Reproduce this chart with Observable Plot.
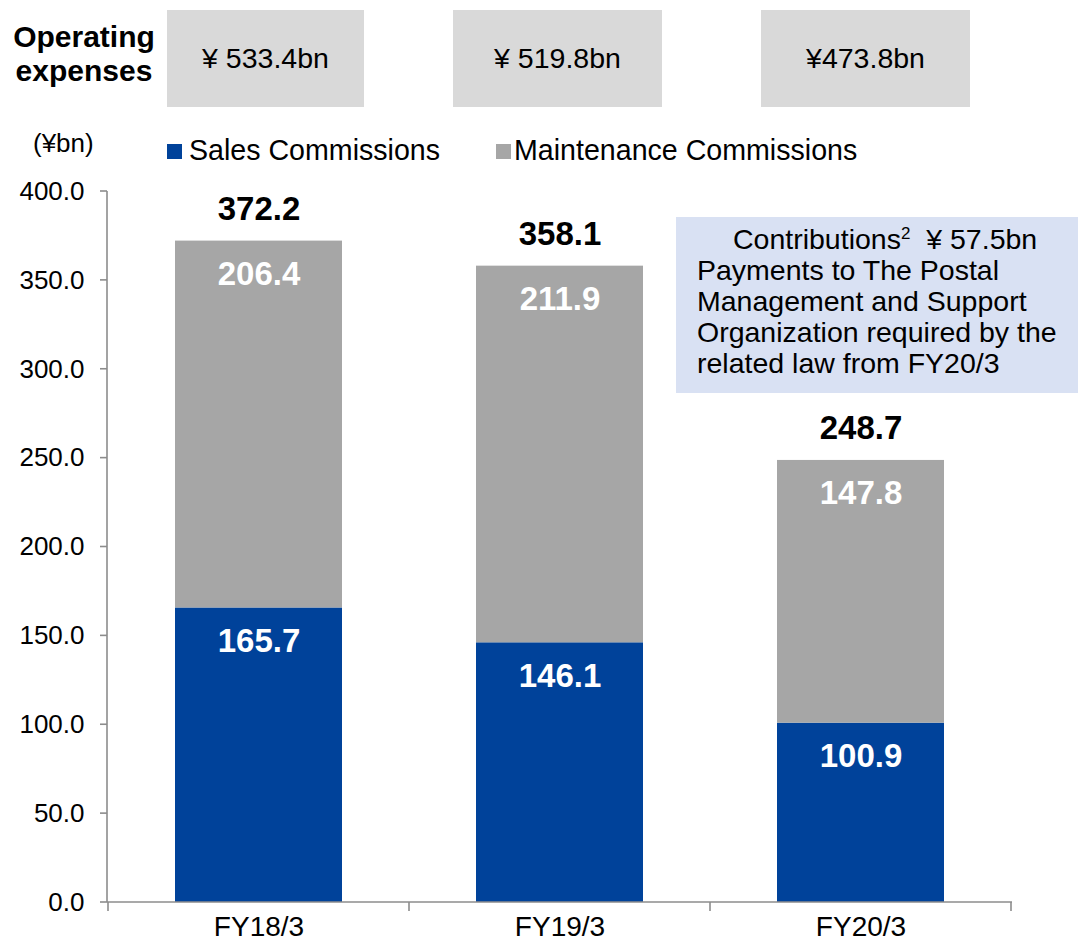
<!DOCTYPE html>
<html>
<head>
<meta charset="utf-8">
<script src="https://cdn.jsdelivr.net/npm/d3@7"></script>
<script src="https://cdn.jsdelivr.net/npm/@observablehq/plot@0.6"></script>
<style>
  body { margin: 0; background: #fff; font-family: "Liberation Sans", Arial, sans-serif; color: #000; }
  #wrap { position: relative; width: 1083px; height: 946px; overflow: hidden; }
  #wrap svg { position: absolute; left: 0; top: 0; }
  .abs { position: absolute; white-space: nowrap; }
  .opbox { position: absolute; top: 10px; height: 97px; background: #D9D9D9; display: flex; align-items: center; justify-content: center; font-size: 28.5px; }
  .sw { position: absolute; width: 15px; height: 15px; top: 144px; }
  .lg { position: absolute; top: 134px; font-size: 28.6px; line-height: 32px; white-space: nowrap; }
  #note { position: absolute; left: 676px; top: 217px; width: 402px; height: 176px; background: #D9E1F3; box-sizing: border-box; padding: 7px 0 0 21px; font-size: 28.5px; line-height: 31px; }
  #note .l1 { padding-left: 36px; }
  #note sup { font-size: 17px; position: relative; top: 1px; vertical-align: top; line-height: 17px; }
</style>
</head>
<body>
<div id="wrap"></div>
<script>
// ---- data ----
const years = ["FY18/3", "FY19/3", "FY20/3"];
const salesCommissions = [165.7, 146.1, 100.9];
const maintenanceCommissions = [206.4, 211.9, 147.8];
const totals = [372.2, 358.1, 248.7];
const operatingExpenses = ["¥ 533.4bn", "¥ 519.8bn", "¥473.8bn"];
const seriesNames = ["Sales Commissions", "Maintenance Commissions"];
const seriesColors = ["#00429A", "#A6A6A6"];
const yTicks = [0, 50, 100, 150, 200, 250, 300, 350, 400];
const noteLines = [
  "Payments to The Postal",
  "Management and Support",
  "Organization required by the",
  "related law from FY20/3"
];

// ---- tables for Plot ----
const data = years.flatMap((yr, i) => [
  {year: yr, series: seriesNames[0], value: salesCommissions[i]},
  {year: yr, series: seriesNames[1], value: maintenanceCommissions[i]}
]);
const totalData = years.map((yr, i) => ({year: yr, total: totals[i]}));

const FONT = '"Liberation Sans", Arial, sans-serif';
const AXIS_GRAY = "#8C8C8C";

function axisLines(index, scales, values, dims) {
  const x = scales.x, y = scales.y;
  const g = d3.create("svg:g").attr("stroke", AXIS_GRAY).attr("stroke-width", 1.6).attr("fill", "none");
  const y0 = y(0), yTop = y(yTicks[yTicks.length - 1]);
  const xl = dims.marginLeft, xr = dims.width - dims.marginRight;
  g.append("line").attr("x1", xl).attr("x2", xl).attr("y1", yTop).attr("y2", y0);
  g.append("line").attr("x1", xl).attr("x2", xr).attr("y1", y0).attr("y2", y0);
  const step = typeof x.step === "function" ? x.step() : (xr - xl) / years.length;
  const bw = typeof x.bandwidth === "function" ? x.bandwidth() : step * 0.556;
  const edges = years.map(c => x(c) - (step - bw) / 2);
  edges.push(x(years[years.length - 1]) + bw + (step - bw) / 2);
  edges.forEach(e => g.append("line").attr("x1", e).attr("x2", e).attr("y1", y0).attr("y2", y0 + 9));
  yTicks.forEach(t => g.append("line").attr("x1", xl - 7).attr("x2", xl).attr("y1", y(t)).attr("y2", y(t)));
  return g.node();
}

const chart = Plot.plot({
  width: 1083,
  height: 946,
  marginTop: 191,
  marginBottom: 44,
  marginLeft: 107,
  marginRight: 71,
  style: {fontFamily: FONT, fontSize: "26px", color: "#000", background: "transparent", overflow: "visible"},
  x: {domain: years, paddingInner: 0.444, paddingOuter: 0.222, label: null},
  y: {domain: [0, 400], label: null},
  color: {domain: seriesNames, range: seriesColors},
  marks: [
    Plot.barY(data, {x: "year", y: "value", fill: "series"}),
    Plot.axisY({ticks: yTicks, tickSize: 0, tickPadding: 23, tickFormat: d3.format(".1f"), fontSize: 26, color: "#000", label: null}),
    Plot.axisX({tickSize: 0, tickPadding: 14, fontSize: 28, color: "#000", label: null}),
    axisLines,
    Plot.text(data, Plot.stackY2({x: "year", y: "value", text: d => d.value.toFixed(1), dy: 44, lineAnchor: "bottom", fill: "white", fontWeight: "bold", fontSize: 33})),
    Plot.text(totalData, {x: "year", y: "total", text: d => d.total.toFixed(1), dy: -21, lineAnchor: "bottom", fill: "#000", fontWeight: "bold", fontSize: 33})
  ]
});

const wrap = document.getElementById("wrap");
wrap.appendChild(chart);

// ---- header: operating expenses ----
const head = document.createElement("div");
head.className = "abs";
head.style.cssText = "left:2px;top:20px;width:164px;text-align:center;font-size:30px;font-weight:bold;line-height:34px;";
head.innerHTML = "Operating<br>expenses";
wrap.appendChild(head);

const boxes = [[167, 197], [453, 209], [761, 209]];
operatingExpenses.forEach((t, i) => {
  const b = document.createElement("div");
  b.className = "opbox";
  b.style.left = boxes[i][0] + "px";
  b.style.width = boxes[i][1] + "px";
  b.textContent = t;
  wrap.appendChild(b);
});

// ---- unit label ----
const unit = document.createElement("div");
unit.className = "abs";
unit.style.cssText = "left:33px;top:128px;font-size:26px;line-height:30px;";
unit.textContent = "(¥bn)";
wrap.appendChild(unit);

// ---- legend ----
const legendPos = [[167, 189], [496, 514]];
seriesNames.forEach((name, i) => {
  const sw = document.createElement("div");
  sw.className = "sw";
  sw.style.left = legendPos[i][0] + "px";
  sw.style.background = seriesColors[i];
  wrap.appendChild(sw);
  const lg = document.createElement("div");
  lg.className = "lg";
  lg.style.left = legendPos[i][1] + "px";
  lg.textContent = name;
  wrap.appendChild(lg);
});

// ---- note box ----
const note = document.createElement("div");
note.id = "note";
note.innerHTML = '<div class="l1">Contributions<sup>2</sup>&nbsp;&nbsp;¥ 57.5bn</div>' +
  noteLines.map(l => "<div>" + l + "</div>").join("");
wrap.appendChild(note);
</script>
</body>
</html>
